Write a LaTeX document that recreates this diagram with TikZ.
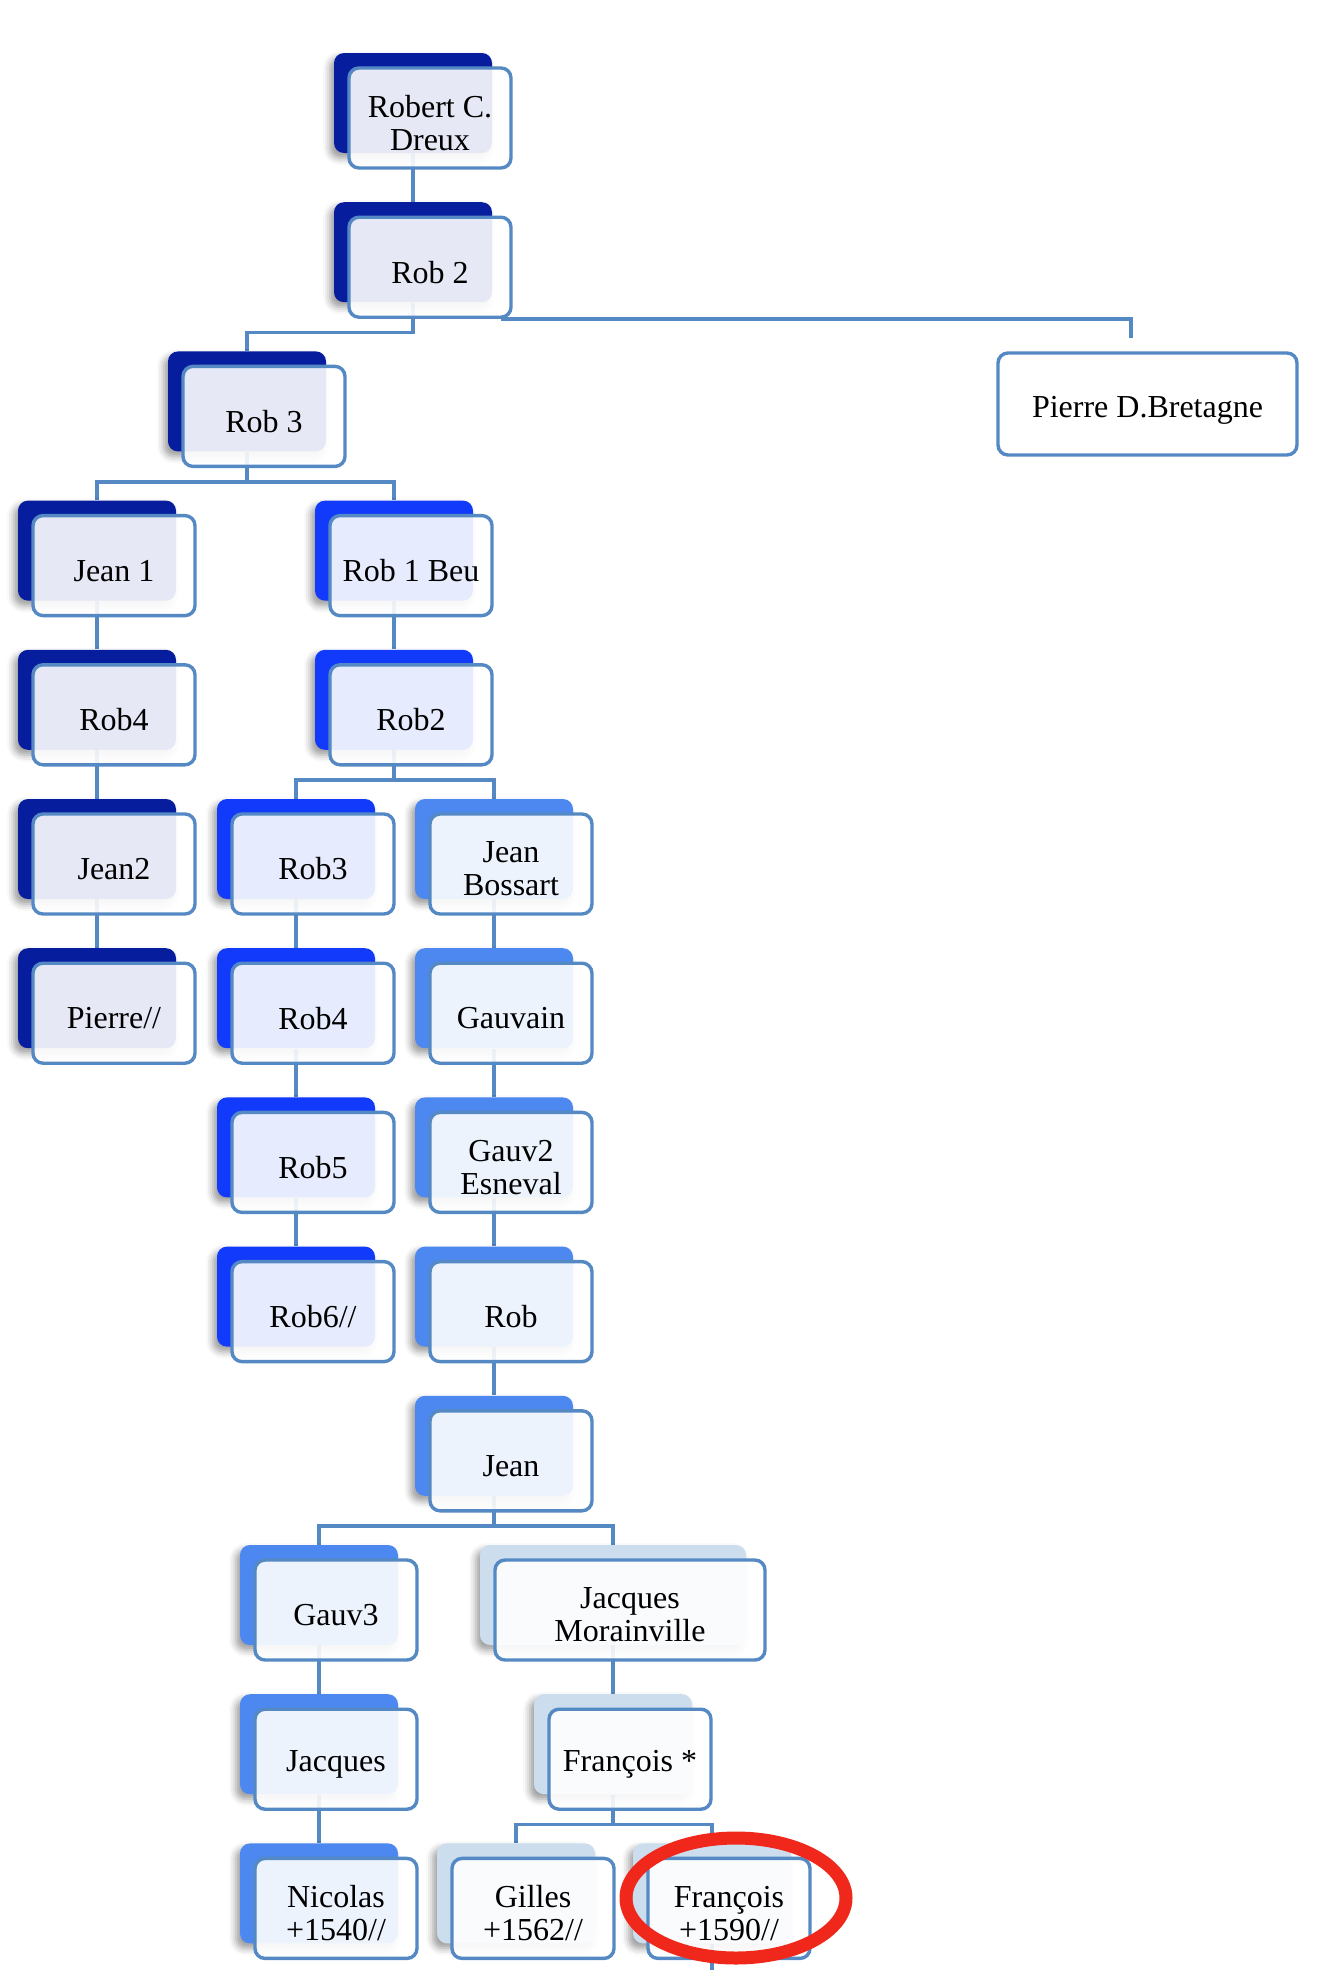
\documentclass[tikz,border=0pt]{standalone}
\usepackage{fontspec}
\setmainfont{Liberation Serif}
\usetikzlibrary{shadows.blur}
\definecolor{navyb}{RGB}{6,30,158}
\definecolor{brightb}{RGB}{18,58,250}
\definecolor{midb}{RGB}{77,136,240}
\definecolor{paleb}{RGB}{204,221,238}
\definecolor{steel}{RGB}{84,137,196}
\definecolor{markred}{RGB}{240,40,28}
\pgfdeclarelayer{bg}
\pgfsetlayers{bg,main}
\tikzset{
  backbox/.style={rounded corners=5pt, minimum height=50pt, inner sep=0pt,
    blur shadow={shadow xshift=-2pt, shadow yshift=-2.5pt, shadow blur radius=3.5pt, shadow opacity=40}},
  frontbox/.style={draw=steel, line width=1.7pt, fill=white, fill opacity=0.9,
    rounded corners=5pt, minimum height=50pt, inner sep=0pt},
  label text/.style={align=center, inner sep=0pt, font=\fontsize{16}{16.5}\selectfont},
  conn/.style={draw=steel, line width=1.8pt},
}
% name, left x, row, colour, width, text
\newcommand\famnode[6]{%
  \node[backbox, fill=#4, minimum width={(#5-4)*0.5pt}] (#1-b) at ({#2-15+(#5-4)/2},{68+149.2*#3+35}) {};
  \node[frontbox, minimum width={#5*0.5pt}] (#1) at ({#2+#5/2},{68+149.2*#3+50}) {};
  \node[label text] (#1-t) at ([yshift=-2.5pt]#1.center) {#6};
}
\begin{document}
\begin{tikzpicture}[x=0.5pt,y=-0.5pt]
\useasboundingbox (0,0) rectangle (1334,1970);
\begin{pgfonlayer}{bg}
  \fill[black!4] (0,0) rectangle (1334,20);
\end{pgfonlayer}

\famnode{robert}{349}{0}{navyb}{162}{Robert C.\\Dreux}
\famnode{robB}{349}{1}{navyb}{162}{Rob 2}
\famnode{robC}{183}{2}{navyb}{162}{Rob 3}
\famnode{jean1}{33}{3}{navyb}{162}{Jean 1}
\famnode{rob4a}{33}{4}{navyb}{162}{Rob4}
\famnode{jean2}{33}{5}{navyb}{162}{Jean2}
\famnode{pierre}{33}{6}{navyb}{162}{Pierre//}
\famnode{rob1beu}{330}{3}{brightb}{162}{Rob 1 Beu}
\famnode{rob2b}{330}{4}{brightb}{162}{Rob2}
\famnode{rob3b}{232}{5}{brightb}{162}{Rob3}
\famnode{rob4b}{232}{6}{brightb}{162}{Rob4}
\famnode{rob5}{232}{7}{brightb}{162}{Rob5}
\famnode{rob6}{232}{8}{brightb}{162}{Rob6//}
\famnode{jbossart}{430}{5}{midb}{162}{Jean\\Bossart}
\famnode{gauvain}{430}{6}{midb}{162}{Gauvain}
\famnode{gauv2}{430}{7}{midb}{162}{Gauv2\\Esneval}
\famnode{rob}{430}{8}{midb}{162}{Rob}
\famnode{jean}{430}{9}{midb}{162}{Jean}
\famnode{gauv3}{255}{10}{midb}{162}{Gauv3}
\famnode{jacques}{255}{11}{midb}{162}{Jacques}
\famnode{nicolas}{255}{12}{midb}{162}{Nicolas\\+1540//}
\famnode{jmor}{495}{10}{paleb}{270}{Jacques\\Morainville}
\famnode{francoisA}{549}{11}{paleb}{162}{François *}
\famnode{gilles}{452}{12}{paleb}{162}{Gilles\\+1562//}
\famnode{francoisB}{648}{12}{paleb}{162}{François\\+1590//}

\node[frontbox, minimum width=149.5pt, minimum height=51pt] (bretagne) at (1147.5,404) {};
\node[label text] (bretagne-t) at ([yshift=-3pt]bretagne.center) {Pierre D.Bretagne};
\coordinate (pbtop) at (1131,338);
\coordinate (fdown) at (0,1970);

\begin{pgfonlayer}{bg}
  \draw[conn] (robert-b.south) -- (robB-b.north);
  \draw[conn] (robB-b.south) -- ++(0,30) -| (robC-b.north);
  \draw[conn] ([xshift=-6pt]robB.south east) -| (pbtop);
  \draw[conn] (robC-b.south) -- ++(0,30) -| (jean1-b.north);
  \draw[conn] (robC-b.south) -- ++(0,30) -| (rob1beu-b.north);
  \draw[conn] (jean1-b.south) -- (rob4a-b.north);
  \draw[conn] (rob4a-b.south) -- (jean2-b.north);
  \draw[conn] (jean2-b.south) -- (pierre-b.north);
  \draw[conn] (rob1beu-b.south) -- (rob2b-b.north);
  \draw[conn] (rob2b-b.south) -- ++(0,30) -| (rob3b-b.north);
  \draw[conn] (rob2b-b.south) -- ++(0,30) -| (jbossart-b.north);
  \draw[conn] (rob3b-b.south) -- (rob4b-b.north);
  \draw[conn] (rob4b-b.south) -- (rob5-b.north);
  \draw[conn] (rob5-b.south) -- (rob6-b.north);
  \draw[conn] (jbossart-b.south) -- (gauvain-b.north);
  \draw[conn] (gauvain-b.south) -- (gauv2-b.north);
  \draw[conn] (gauv2-b.south) -- (rob-b.north);
  \draw[conn] (rob-b.south) -- (jean-b.north);
  \draw[conn] (jean-b.south) -- ++(0,30) -| (gauv3-b.north);
  \draw[conn] (jean-b.south) -- ++(0,30) -| (jmor-b.north);
  \draw[conn] (gauv3-b.south) -- (jacques-b.north);
  \draw[conn] (jacques-b.south) -- (nicolas-b.north);
  \draw[conn] (jmor-b.south) -- (francoisA-b.north);
  \draw[conn] (francoisA-b.south) -- ++(0,30) -| (gilles-b.north);
  \draw[conn] (francoisA-b.south) -- ++(0,30) -| (francoisB-b.north);
  \draw[conn] (francoisB-b.south) -- (francoisB-b.south |- fdown);
\end{pgfonlayer}

\draw[markred, line width=6.5pt] (736,1898) ellipse [x radius=110, y radius=60];
\end{tikzpicture}
\end{document}
